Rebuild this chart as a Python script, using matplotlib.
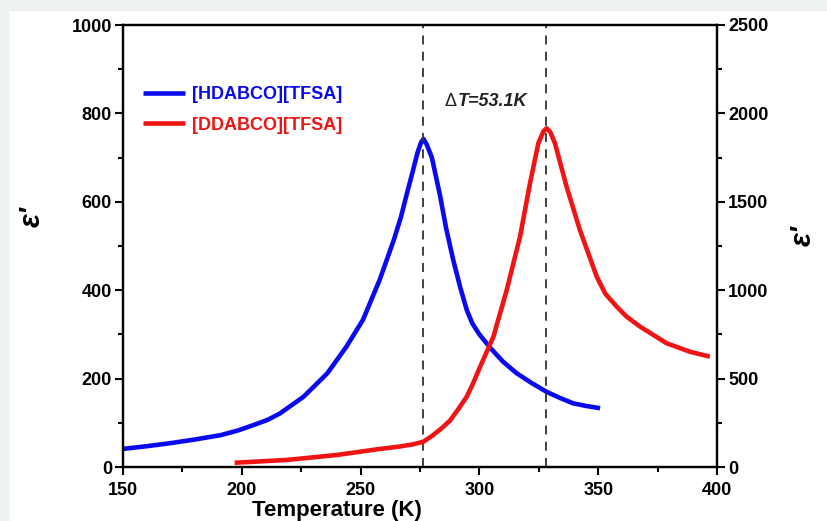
import matplotlib.pyplot as plt
from matplotlib.patches import Rectangle
from matplotlib.ticker import MultipleLocator

plt.rcParams['font.family'] = ['Liberation Sans', 'DejaVu Sans']
plt.rcParams['font.weight'] = 'bold'

# [HDABCO][TFSA], left axis
temp_h = [150, 160, 170, 180, 191, 198, 205, 211, 216, 226, 236, 244, 251,
          258, 264, 267, 269.5, 272, 274, 275.5, 276.5, 277.8, 280, 283.4,
          286, 289, 292, 294.7, 297, 300, 304.5, 310, 315.7, 322, 328.3,
          334, 339.5, 345, 350.8]
eps_h = [41, 47, 54, 62, 72, 82, 95, 107, 121, 159, 212, 272, 333,
         423, 514, 566, 619, 670, 712, 735, 742, 730, 700, 615,
         540, 468, 405, 355, 325, 300, 270, 238, 212, 190, 170,
         156, 144, 138, 133]

# [DDABCO][TFSA], right axis
temp_d = [197, 219, 240, 258, 266, 272, 276.4, 280, 284, 287.6, 291, 294.7,
          297.4, 300.3, 305.9, 311.5, 317.1, 321.3, 324.8, 327, 328.3,
          329.8, 331.8, 336.7, 342.3, 349.4, 353, 357.8, 362, 367.6, 378.8,
          388.6, 397]
eps_d = [24, 40, 68, 102, 115, 128, 143, 175, 218, 262, 325, 398,
         475, 567, 737, 1001, 1303, 1605, 1831, 1900, 1916,
         1895, 1831, 1585, 1340, 1076, 980, 907, 850, 794, 700,
         652, 624]

peaks = [276.4, 327.9]
label_h = "[HDABCO][TFSA]"
label_d = "[DDABCO][TFSA]"
blue = '#0a0af0'
red = '#f01414'

fig = plt.figure(figsize=(8.28, 5.21), dpi=100)
fig.patches.append(Rectangle((0, 1 - 10 / 521), 1, 10 / 521, transform=fig.transFigure,
                             color='#eef1f1', zorder=-1))
fig.patches.append(Rectangle((0, 0), 8 / 828, 1, transform=fig.transFigure,
                             color='#eef1f1', zorder=-1))

ax = fig.add_axes([123 / 828, 1 - 467 / 521, 594 / 828, 442 / 521])
ax2 = ax.twinx()

lh, = ax.plot(temp_h, eps_h, color=blue, lw=3.3, solid_capstyle='butt',
              solid_joinstyle='round')
ld, = ax2.plot(temp_d, eps_d, color=red, lw=3.3, solid_capstyle='butt',
               solid_joinstyle='round')

for p in peaks:
    ax.axvline(p, color='#333333', lw=1.3, ls=(0, (5, 4)))

ax.set_xlim(150, 400)
ax.set_ylim(0, 1000)
ax2.set_ylim(0, 2500)

ax.xaxis.set_major_locator(MultipleLocator(50))
ax.xaxis.set_minor_locator(MultipleLocator(25))
ax.yaxis.set_major_locator(MultipleLocator(200))
ax.yaxis.set_minor_locator(MultipleLocator(100))
ax2.yaxis.set_major_locator(MultipleLocator(500))
ax2.yaxis.set_minor_locator(MultipleLocator(250))

for a in (ax, ax2):
    for s in a.spines.values():
        s.set_linewidth(1.6)
    a.tick_params(which='major', length=6, width=1.5, labelsize=13, pad=2)
    a.tick_params(which='minor', length=3.5, width=1.5)
ax.tick_params(axis='x', pad=5)
ax.tick_params(top=False, which='both')

ax.set_xlabel("Temperature (K)", fontsize=16, fontweight='bold')
ax.xaxis.set_label_coords(0.36, -0.074)
ax.set_ylabel("ε'", fontsize=21, fontweight='bold', style='italic', rotation=90)
ax.yaxis.set_label_coords(-0.131, 0.566)
ax2.set_ylabel("ε'", fontsize=21, fontweight='bold', style='italic', rotation=90)
ax2.yaxis.set_label_coords(1.12, 0.523)

leg = ax.legend([lh, ld], [label_h, label_d], loc='upper left', bbox_to_anchor=(0.022, 0.878),
                frameon=False, fontsize=13, handlelength=2.3, handletextpad=0.4,
                labelspacing=0.75, borderaxespad=0)
for t, c in zip(leg.get_texts(), [blue, red]):
    t.set_color(c)

ax.text(290.2, 828, "Δ", ha='right', va='center', fontsize=13, fontweight='normal',
        color='#222222')
ax.text(291.0, 828, "T=53.1K", ha='left', va='center', fontsize=13, style='italic',
        color='#222222')

fig.savefig('out.png', dpi=100)
